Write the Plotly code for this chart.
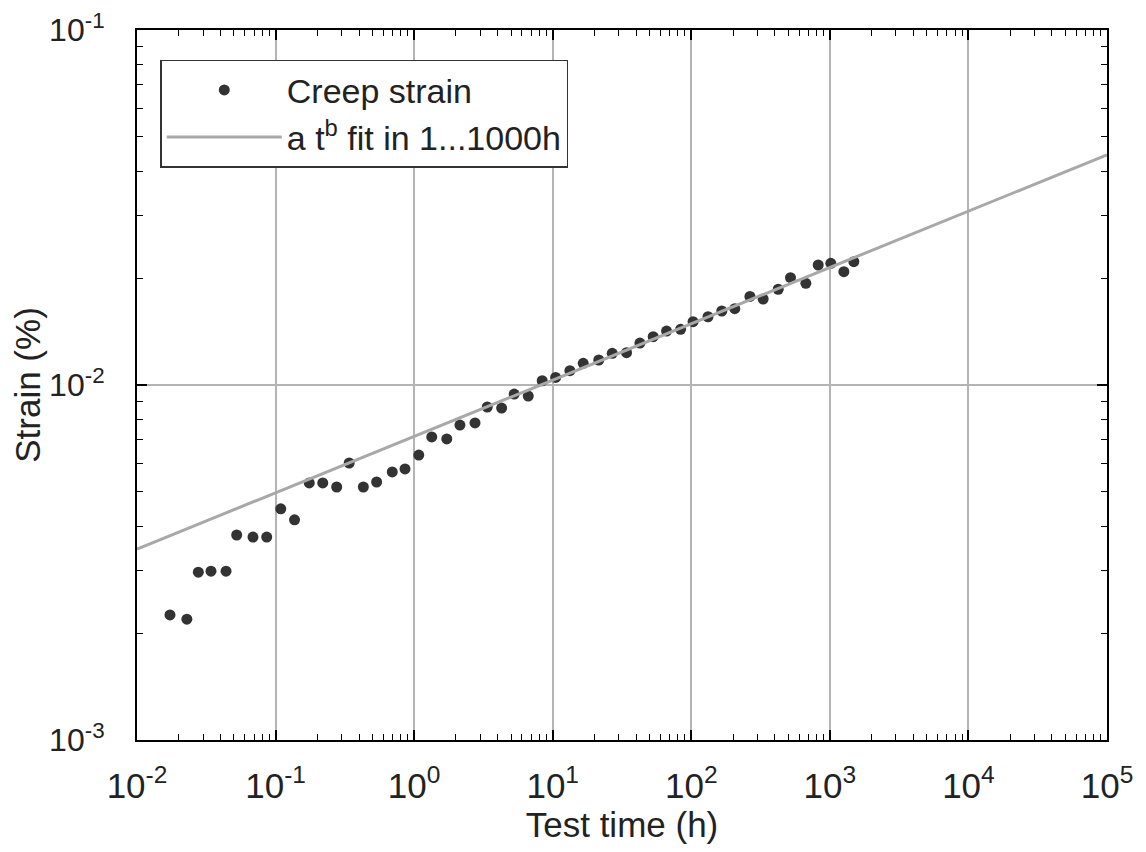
import plotly.graph_objects as go

# Creep strain data (test time in h, strain in %)
time_h = [0.0173, 0.0229, 0.0277, 0.0342, 0.0439, 0.0524, 0.0687, 0.0863, 0.109, 0.137,
          0.175, 0.219, 0.276, 0.340, 0.430, 0.536, 0.695, 0.859, 1.08, 1.34,
          1.72, 2.14, 2.75, 3.37, 4.28, 5.27, 6.66, 8.40, 10.5, 13.3,
          16.6, 21.5, 26.9, 34.1, 42.6, 53.1, 66.3, 83.7, 103, 132,
          166, 206, 265, 330, 424, 520, 671, 824, 1016, 1262, 1489]
strain = [0.00225, 0.00219, 0.00297, 0.00299, 0.00299, 0.00378, 0.00373, 0.00373, 0.00448, 0.00417,
          0.00530, 0.00530, 0.00516, 0.00603, 0.00516, 0.00533, 0.00569, 0.00580, 0.00635, 0.00714,
          0.00705, 0.00771, 0.00782, 0.00867, 0.00861, 0.00943, 0.00931, 0.01028, 0.0105, 0.01097,
          0.01151, 0.01176, 0.01228, 0.01233, 0.01313, 0.01368, 0.01419, 0.01435, 0.01508, 0.01557,
          0.01616, 0.01641, 0.01776, 0.01747, 0.01861, 0.02006, 0.01934, 0.02178, 0.02202, 0.02086, 0.02225]

# Power-law fit a*t^b (straight line on log-log axes), endpoints
fit_time = [0.01, 100000]
fit_strain = [0.00345, 0.0445]

x_tick_vals = [1e-2, 1e-1, 1e0, 1e1, 1e2, 1e3, 1e4, 1e5]
x_tick_text = ["10<sup>-2</sup>", "10<sup>-1</sup>", "10<sup>0</sup>", "10<sup>1</sup>",
               "10<sup>2</sup>", "10<sup>3</sup>", "10<sup>4</sup>", "10<sup>5</sup>"]
y_tick_vals = [1e-3, 1e-2, 1e-1]
y_tick_text = ["10<sup>-3</sup>", "10<sup>-2</sup>", "10<sup>-1</sup>"]

FONT = "Liberation Sans, Arial, sans-serif"

fig = go.Figure()
fig.add_trace(go.Scatter(
    x=time_h, y=strain, mode="markers", name="Creep strain",
    marker=dict(color="#333333", size=11, symbol="circle"),
))
fig.add_trace(go.Scatter(
    x=fit_time, y=fit_strain, mode="lines", name="a t<sup>b</sup> fit in 1...1000h",
    line=dict(color="#a8a8a8", width=3),
))

axis_common = dict(
    type="log", automargin=False,
    showline=True, linecolor="black", linewidth=2, mirror="ticks",
    ticks="inside", ticklen=10, tickwidth=1.5, tickcolor="black",
    showgrid=True, gridcolor="#b4b4b4", gridwidth=1.5,
    zeroline=False, ticklabeloverflow="allow",
    minor=dict(ticks="inside", ticklen=6, tickwidth=1.2, tickcolor="black",
               dtick="D1", showgrid=False),
)

fig.update_xaxes(
    **axis_common, range=[-2, 5],
    tickfont=dict(family=FONT, size=35, color="#222"),
    tickvals=x_tick_vals, ticktext=x_tick_text, ticklabelstandoff=14,
    title=dict(text="Test time (h)", font=dict(family=FONT, size=35, color="#222"), standoff=8),
)
fig.update_yaxes(
    **axis_common, range=[-3, -1],
    tickfont=dict(family=FONT, size=32, color="#222"),
    tickvals=y_tick_vals, ticktext=y_tick_text, ticklabelstandoff=24,
    title=dict(text="Strain (%)", font=dict(family=FONT, size=35, color="#222"), standoff=6),
)

fig.update_layout(
    width=1138, height=844,
    margin=dict(l=129, r=39, t=22, b=112),
    paper_bgcolor="white", plot_bgcolor="white",
    showlegend=True,
    legend=dict(
        x=0.024, y=0.958, xanchor="left", yanchor="top",
        bgcolor="white", bordercolor="#333", borderwidth=1.5,
        font=dict(family=FONT, size=34, color="#222"),
        itemwidth=115, tracegroupgap=0,
    ),
)

fig.write_html("out.html")
